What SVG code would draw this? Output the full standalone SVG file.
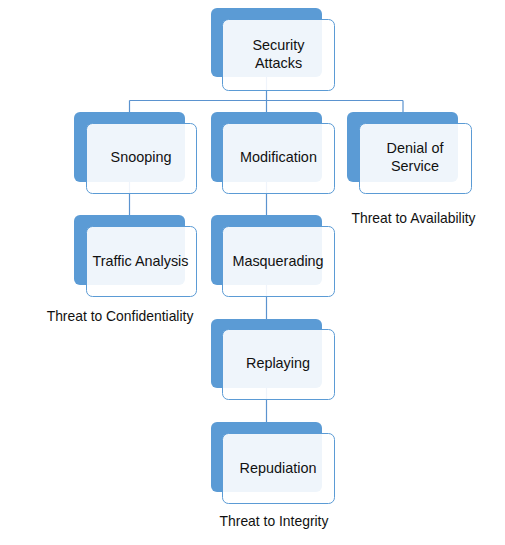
<svg xmlns="http://www.w3.org/2000/svg" width="505" height="545" viewBox="0 0 505 545">
<style>
.bk{fill:#5b9bd5}
.fr{fill:#ffffff;fill-opacity:0.9;stroke:#5b9bd5;stroke-width:1}
.t{font-family:"Liberation Sans",Arial,sans-serif;font-size:14.4px;fill:#111;text-anchor:middle}
.lb{font-family:"Liberation Sans",Arial,sans-serif;font-size:13.9px;fill:#111;text-anchor:middle}
.c{stroke:#5b93cf;stroke-width:1.2;fill:none}
</style>
<rect width="505" height="545" fill="#ffffff"/>
<g id="connectors">
<path class="c" d="M266.5 43V100.5M129.5 100.5H403M129.5 100.5V147M266.5 100.5V147M403 100.5V147"/>
<path class="c" d="M129.5 147V250"/>
<path class="c" d="M266.5 147V457"/>
</g>
<g id="security-attacks">
<rect class="bk" x="211" y="8" width="111" height="69" rx="6"/>
<rect class="fr" x="222.5" y="19.5" width="112" height="71" rx="6"/>
<text class="t" x="278.5" y="50">Security</text>
<text class="t" x="278.5" y="68">Attacks</text>
</g>
<g id="snooping">
<rect class="bk" x="74" y="112" width="111" height="70" rx="6"/>
<rect class="fr" x="86.5" y="123.5" width="110" height="70" rx="6"/>
<text class="t" x="141" y="162">Snooping</text>
</g>
<g id="modification">
<rect class="bk" x="211" y="112" width="111" height="70" rx="6"/>
<rect class="fr" x="222.5" y="123.5" width="112" height="70" rx="6"/>
<text class="t" x="278.5" y="162">Modification</text>
</g>
<g id="denial-of-service">
<rect class="bk" x="347" y="112" width="111" height="70" rx="6"/>
<rect class="fr" x="359.5" y="123.5" width="112" height="70" rx="6"/>
<text class="t" x="415" y="153">Denial of</text>
<text class="t" x="415" y="171">Service</text>
</g>
<g id="traffic-analysis">
<rect class="bk" x="74" y="215" width="111" height="70" rx="6"/>
<rect class="fr" x="86.5" y="226.5" width="110" height="70" rx="6"/>
<text class="t" x="140.5" y="266">Traffic Analysis</text>
</g>
<g id="masquerading">
<rect class="bk" x="211" y="215" width="111" height="70" rx="6"/>
<rect class="fr" x="222.5" y="226.5" width="112" height="70" rx="6"/>
<text class="t" x="278" y="266">Masquerading</text>
</g>
<g id="replaying">
<rect class="bk" x="211" y="319" width="111" height="69" rx="6"/>
<rect class="fr" x="222.5" y="329.5" width="112" height="70" rx="6"/>
<text class="t" x="278" y="368">Replaying</text>
</g>
<g id="repudiation">
<rect class="bk" x="211" y="422" width="111" height="70" rx="6"/>
<rect class="fr" x="222.5" y="433.5" width="112" height="70" rx="6"/>
<text class="t" x="278" y="473">Repudiation</text>
</g>
<g id="labels">
<text class="lb" x="120" y="321">Threat to Confidentiality</text>
<text class="lb" x="413.5" y="223">Threat to Availability</text>
<text class="lb" x="274" y="526">Threat to Integrity</text>
</g>
</svg>
